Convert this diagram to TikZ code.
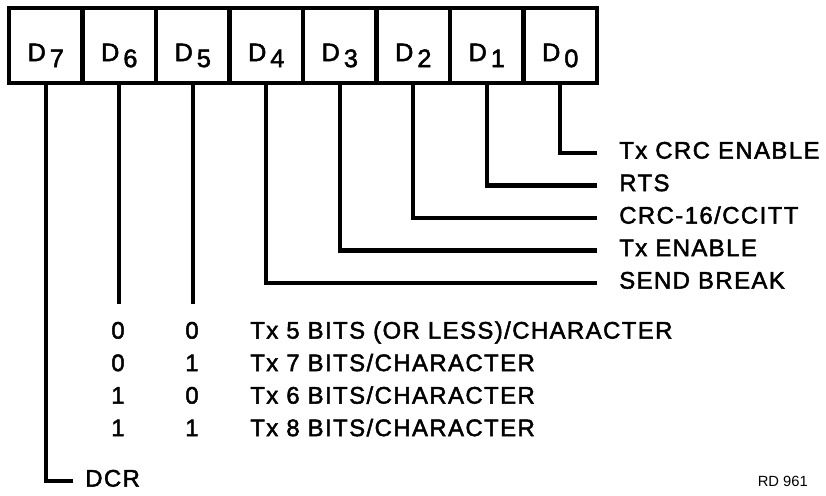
\documentclass[tikz,border=0pt]{standalone}
\usepackage{fontspec}
\setmainfont{Liberation Sans}
\newfontfamily\widesans{Liberation Sans}[LetterSpace=6, FakeBold=2]
\usetikzlibrary{positioning,calc}
\newcommand{\regbit}[1]{D\hspace{0.1cm}\raisebox{-0.15cm}{#1}}

\begin{document}
\begin{tikzpicture}[
    font=\widesans\fontsize{17}{19}\selectfont,
    cell/.style={rectangle, draw=black, line width=3pt, minimum width=1.8375cm, minimum height=1.875cm, inner sep=0pt, outer sep=0pt, text height=0.98cm, text depth=0.2cm, font=\widesans\fontsize{18}{20}\selectfont},
    wire/.style={line width=3pt},
    lbl/.style={anchor=west, inner xsep=0.55cm, inner ysep=0pt, text height=0.43cm, text depth=0.15cm},
    val/.style={inner sep=0pt, text height=0.43cm, text depth=0.15cm},
  ]
  \useasboundingbox (0,0) rectangle (20.65,12.375);
  % register bits
  \node[cell] (d7) at (1.14375,11.2375) {\regbit{7}};
  \node[cell, right=0pt of d7] (d6) {\regbit{6}};
  \node[cell, right=0pt of d6] (d5) {\regbit{5}};
  \node[cell, right=0pt of d5] (d4) {\regbit{4}};
  \node[cell, right=0pt of d4] (d3) {\regbit{3}};
  \node[cell, right=0pt of d3] (d2) {\regbit{2}};
  \node[cell, right=0pt of d2] (d1) {\regbit{1}};
  \node[cell, right=0pt of d1] (d0) {\regbit{0}};
  % single-bit controls
  \node[lbl] (txcrc) at (14.925,8.55) {Tx CRC ENABLE};
  \node[lbl] (rts) at (14.925,7.7375) {RTS};
  \node[lbl] (crc) at (14.925,6.925) {CRC-16/CCITT};
  \node[lbl] (txen) at (14.925,6.1125) {Tx ENABLE};
  \node[lbl] (brk) at (14.925,5.3) {SEND BREAK};
  \node[lbl, inner xsep=0.3cm] (dcr) at (1.825,0.35) {DCR};
  \draw[wire] (d0.south) |- (txcrc.west);
  \draw[wire] (d1.south) |- (rts.west);
  \draw[wire] (d2.south) |- (crc.west);
  \draw[wire] (d3.south) |- (txen.west);
  \draw[wire] (d4.south) |- (brk.west);
  \draw[wire] (d7.south) |- (dcr.west);
  % bits per character
  \coordinate (e6) at ($(d6.south)+(0,-5.525)$);
  \coordinate (e5) at ($(d5.south)+(0,-5.525)$);
  \draw[wire] (d6.south) -- (e6);
  \draw[wire] (d5.south) -- (e5);
  \node[val] (a1) at (2.95,4.05) {0};
  \node[val] (b1) at (4.8,4.05) {0};
  \node[val, anchor=west] (t1) at (6.25,4.05) {Tx 5 BITS (OR LESS)/CHARACTER};
  \node[val] (a2) at (2.95,3.2375) {0};
  \node[val] (b2) at (4.8,3.2375) {1};
  \node[val, anchor=west] (t2) at (6.25,3.2375) {Tx 7 BITS/CHARACTER};
  \node[val] (a3) at (2.95,2.425) {1};
  \node[val] (b3) at (4.8,2.425) {0};
  \node[val, anchor=west] (t3) at (6.25,2.425) {Tx 6 BITS/CHARACTER};
  \node[val] (a4) at (2.95,1.6125) {1};
  \node[val] (b4) at (4.8,1.6125) {1};
  \node[val, anchor=west] (t4) at (6.25,1.6125) {Tx 8 BITS/CHARACTER};
  \node[anchor=east, font=\rmfamily\fontsize{10.5}{12}\selectfont] (rd) at (20.32,0.35) {RD 961};
\end{tikzpicture}
\end{document}
